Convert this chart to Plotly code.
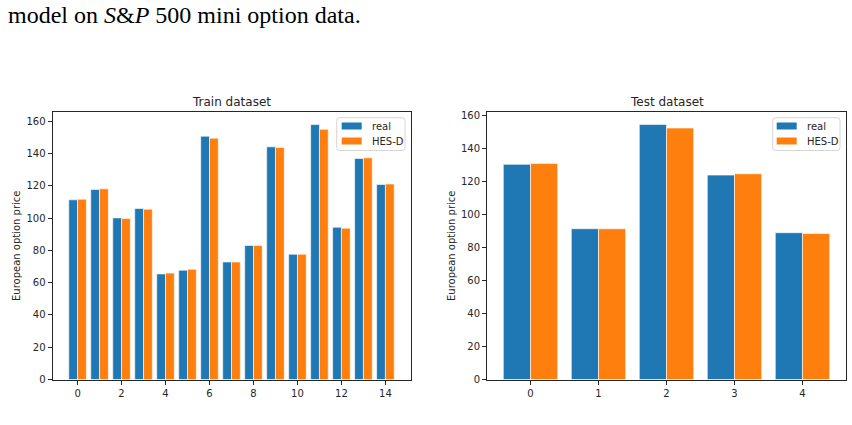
import plotly.graph_objects as go

# ---- data ----
train_idx = list(range(15))
train_real = [111.3, 117.7, 100.1, 105.9, 65.4, 67.7, 150.7, 72.8, 83.0, 144.1, 77.6, 157.9, 94.3, 136.9, 120.8]
train_hes = [111.7, 118.1, 99.7, 105.5, 65.9, 68.3, 149.5, 72.8, 83.0, 143.7, 77.6, 155.0, 93.7, 137.3, 121.1]

test_idx = list(range(5))
test_real = [130.3, 91.3, 154.4, 123.8, 88.9]
test_hes = [130.8, 91.3, 152.3, 124.6, 88.4]

train_ticks = [0, 2, 4, 6, 8, 10, 12, 14]
test_ticks = [0, 1, 2, 3, 4]
y_ticks = [0, 20, 40, 60, 80, 100, 120, 140, 160]
series_names = ["real", "HES-D"]

BLUE = "#1f77b4"
ORANGE = "#ff7f0e"
W, H = 852, 425

fig = go.Figure()

def add_pair(xs, real, hes, xa, ya):
    fig.add_trace(go.Bar(x=xs, y=real, name=series_names[0], marker_color=BLUE,
                         marker_line_width=0.6, marker_line_color="white",
                         offset=-0.4, width=0.4, xaxis=xa, yaxis=ya, showlegend=False))
    fig.add_trace(go.Bar(x=xs, y=hes, name=series_names[1], marker_color=ORANGE,
                         marker_line_width=0.6, marker_line_color="white",
                         offset=0.0, width=0.4, xaxis=xa, yaxis=ya, showlegend=False))

add_pair(train_idx, train_real, train_hes, "x", "y")
add_pair(test_idx, test_real, test_hes, "x2", "y2")

ybot = 1 - 379.5 / H
ytop = 1 - 112 / H
axis_common = dict(showline=True, linecolor="#262626", linewidth=1, mirror=True,
                   ticks="outside", ticklen=4, tickcolor="#262626", showgrid=False,
                   zeroline=False, automargin=False,
                   tickfont=dict(family="DejaVu Sans", size=10, color="#262626"))

fig.update_layout(
    width=W, height=H, margin=dict(l=0, r=0, t=0, b=0, autoexpand=False),
    paper_bgcolor="white", plot_bgcolor="white",
    barmode="overlay", showlegend=False,
    xaxis=dict(domain=[52.5 / W, 410.5 / W], range=[-1.14, 15.14], tickvals=train_ticks, **axis_common),
    yaxis=dict(domain=[ybot, ytop], range=[0, 165.7], tickvals=y_ticks, **axis_common),
    xaxis2=dict(domain=[487 / W, 846 / W], range=[-0.64, 4.64], tickvals=test_ticks, anchor="y2", **axis_common),
    yaxis2=dict(domain=[ybot, ytop], range=[0, 162.0], tickvals=y_ticks, anchor="x2", **axis_common),
)

def px_x(v):
    return v / W

def px_y(v):
    return 1 - v / H

# legend boxes (drawn in paper coordinates)
def add_legend(x0, x1, y0, y1, patch_x0):
    r = 3
    X0, X1, Y0, Y1 = px_x(x0), px_x(x1), px_y(y0), px_y(y1)
    rx, ry = r / W, r / H
    path = (f"M {X0+rx},{Y0} L {X1-rx},{Y0} Q {X1},{Y0} {X1},{Y0-ry} "
            f"L {X1},{Y1+ry} Q {X1},{Y1} {X1-rx},{Y1} L {X0+rx},{Y1} Q {X0},{Y1} {X0},{Y1+ry} "
            f"L {X0},{Y0-ry} Q {X0},{Y0} {X0+rx},{Y0} Z")
    fig.add_shape(type="path", path=path, xref="paper", yref="paper",
                  line=dict(color="#d6d6d6", width=1), fillcolor="rgba(255,255,255,0.8)")
    for name, col, cy in [(series_names[0], BLUE, y0 + 8.3), (series_names[1], ORANGE, y0 + 23.3)]:
        fig.add_shape(type="rect", xref="paper", yref="paper",
                      x0=px_x(patch_x0), x1=px_x(patch_x0 + 20),
                      y0=px_y(cy - 3.5), y1=px_y(cy + 3.5),
                      line=dict(width=0), fillcolor=col)
        fig.add_annotation(text=name, x=px_x(patch_x0 + 28), y=px_y(cy + 0.5), xref="paper", yref="paper",
                           showarrow=False, xanchor="left", yanchor="middle",
                           font=dict(family="DejaVu Sans", size=10, color="#262626"))

add_legend(336.7, 405, 117.7, 150.5, 341.7)
add_legend(772.7, 840, 117.7, 150.5, 776.7)

ann_font = dict(family="DejaVu Sans", size=12, color="#262626")
fig.add_annotation(text="Train dataset", x=px_x(231.5), y=px_y(102), xref="paper", yref="paper",
                   showarrow=False, font=ann_font, xanchor="center", yanchor="middle")
fig.add_annotation(text="Test dataset", x=px_x(666.5), y=px_y(102), xref="paper", yref="paper",
                   showarrow=False, font=ann_font, xanchor="center", yanchor="middle")
ylab_font = dict(family="DejaVu Sans", size=10, color="#262626")
fig.add_annotation(text="European option price", x=px_x(16), y=px_y(246), xref="paper", yref="paper",
                   showarrow=False, font=ylab_font, textangle=-90, xanchor="center", yanchor="middle")
fig.add_annotation(text="European option price", x=px_x(451), y=px_y(246), xref="paper", yref="paper",
                   showarrow=False, font=ylab_font, textangle=-90, xanchor="center", yanchor="middle")

# caption fragment from the surrounding page
fig.add_annotation(text="model on <i>S</i>&amp;<i>P</i> 500 mini option data.", x=px_x(6), y=px_y(15),
                   xref="paper", yref="paper", showarrow=False,
                   font=dict(family="Liberation Serif", size=24, color="black"),
                   xanchor="left", yanchor="middle")

fig.write_html("out.html")
